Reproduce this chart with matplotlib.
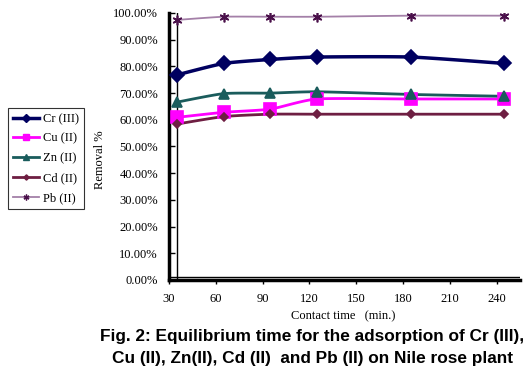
import numpy as np
import matplotlib
matplotlib.use("Agg")
import matplotlib.pyplot as plt
from matplotlib.lines import Line2D

time_min = [35, 65, 95, 125, 185, 245]
cr = [76.8, 81.1, 82.6, 83.5, 83.5, 81.1]
cu = [60.9, 62.8, 64.0, 67.8, 67.8, 67.8]
zn = [66.6, 69.8, 70.0, 70.5, 69.5, 68.8]
cd = [58.4, 61.2, 62.1, 62.1, 62.1, 62.1]
pb = [97.4, 98.6, 98.6, 98.6, 99.0, 99.0]
x_ticks = [30, 60, 90, 120, 150, 180, 210, 240]
y_ticks = [0, 10, 20, 30, 40, 50, 60, 70, 80, 90, 100]
labels = ["Cr (III)", "Cu (II)", "Zn (II)", "Cd (II)", "Pb (II)"]


def smooth(x, y, n=20, k=10.0):
    x = np.asarray(x, float)
    y = np.asarray(y, float)
    xs, ys = [], []
    for i in range(len(x) - 1):
        p0 = np.array([x[max(i - 1, 0)], y[max(i - 1, 0)]])
        p1 = np.array([x[i], y[i]])
        p2 = np.array([x[i + 1], y[i + 1]])
        p3 = np.array([x[min(i + 2, len(x) - 1)], y[min(i + 2, len(x) - 1)]])
        c1 = p1 + (p2 - p0) / k
        c2 = p2 - (p3 - p1) / k
        t = np.linspace(0, 1, n)[:, None]
        pts = ((1 - t) ** 3) * p1 + 3 * ((1 - t) ** 2) * t * c1 + 3 * (1 - t) * t ** 2 * c2 + t ** 3 * p2
        xs.extend(pts[:, 0])
        ys.extend(pts[:, 1])
    return np.array(xs), np.array(ys)


plt.rcParams['font.family'] = ['Liberation Serif', 'DejaVu Serif']

fig = plt.figure(figsize=(5.28, 3.73), dpi=100)
ax = fig.add_axes([169 / 528, 1 - 280 / 373, (520 - 169) / 528, (280 - 13) / 373])

styles = [
    dict(color='#000060', lw=2.5, marker='D', ms=7, mfc='#000060', mec='#000060'),
    dict(color='#FF00FF', lw=2.0, marker='s', ms=8, mfc='#FF00FF', mec='#FF00FF'),
    dict(color='#1A5C5C', lw=2.0, marker='^', ms=6.5, mfc='#1A5C5C', mec='#1A5C5C'),
    dict(color='#6E1E42', lw=2.0, marker='D', ms=4.5, mfc='#6E1E42', mec='#6E1E42'),
    dict(color='#A480A8', lw=1.3, marker=(6, 2, 0), ms=7, mfc='#4A104A', mec='#4A104A'),
]
series = [cr, cu, zn, cd, pb]
handles = []
for s, st in zip(series, styles):
    sx, sy = smooth(time_min, np.array(s) / 100)
    ax.plot(sx, sy, color=st['color'], lw=st['lw'], zorder=3)
    ax.plot(time_min, np.array(s) / 100, ls='none', marker=st['marker'], ms=st['ms'],
            mfc=st['mfc'], mec=st['mec'], mew=1.2, zorder=4)
    handles.append(Line2D([], [], color=st['color'], lw=st['lw'], marker=st['marker'],
                          ms=st['ms'] * 0.6, mfc=st['mfc'], mec=st['mec']))

ax.set_xlim(30, 255)
ax.set_ylim(0, 1.0)
ax.set_xticks(x_ticks)
ax.set_yticks([v / 100 for v in y_ticks])
ax.set_yticklabels([f"{v:.2f}%" for v in y_ticks])
ax.tick_params(axis='y', direction='in', length=4, labelsize=9, pad=8, width=1)
ax.tick_params(axis='x', direction='out', length=3, labelsize=9, pad=6, width=1)

for side in ['top', 'right']:
    ax.spines[side].set_visible(False)
ax.spines['left'].set_linewidth(2.5)
ax.spines['bottom'].set_linewidth(2.5)
ax.axvline(time_min[0], color='black', lw=1.0, zorder=2)
ax.axhline(0.011, color='black', lw=1.0, zorder=2)

fig.text(100 / 528, 1 - 160 / 373, "Removal %", rotation=90, ha='center', va='center', fontsize=9)
fig.text(343 / 528, 1 - 316 / 373, "Contact time   (min.)", ha='center', va='center', fontsize=9)

leg = fig.legend(handles, labels, loc='upper left', bbox_to_anchor=(8 / 528, 1 - 108 / 373),
                 frameon=True, fancybox=False, edgecolor='black', fontsize=9,
                 handlelength=2.1, handletextpad=0.3, borderpad=0.4, labelspacing=0.62,
                 borderaxespad=0)
leg.get_frame().set_linewidth(0.8)

fig.text(312 / 528, 1 - 337 / 373, "Fig. 2: Equilibrium time for the adsorption of Cr (III),",
         ha='center', va='center', fontsize=12.4, fontweight='bold', family='Liberation Sans')
fig.text(312 / 528, 1 - 358 / 373, "Cu (II), Zn(II), Cd (II)  and Pb (II) on Nile rose plant",
         ha='center', va='center', fontsize=12.4, fontweight='bold', family='Liberation Sans')

fig.savefig("out.png", dpi=100)
